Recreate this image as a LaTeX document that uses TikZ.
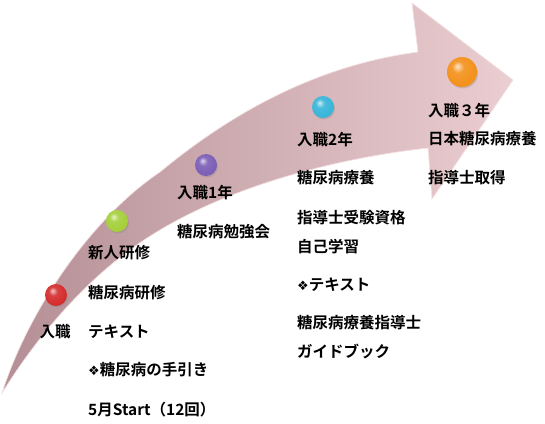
\documentclass[tikz,border=0pt]{standalone}
\usepackage{fontspec}
\newfontfamily\jpfont{Noto Sans CJK JP}[BoldFont={Noto Sans CJK JP Bold}]
\newfontfamily\symfont{DejaVu Sans}
\usetikzlibrary{positioning,calc,shadows}

\definecolor{arrowdark}{HTML}{B48F95}
\definecolor{arrowmid}{HTML}{D9B6BA}
\definecolor{arrowlight}{HTML}{EBCED1}
\definecolor{arrowedge}{HTML}{F3E1E3}
\definecolor{beadred}{HTML}{D42A2A}
\definecolor{beadgreen}{HTML}{A4CF38}
\definecolor{beadpurple}{HTML}{7A5CB5}
\definecolor{beadcyan}{HTML}{36B4D8}
\definecolor{beadorange}{HTML}{F39019}
\colorlet{beadtint}{beadred}

\pgfdeclareradialshading[beadtint]{beadball}{\pgfpoint{-8bp}{10bp}}{%
  color(0bp)=(beadtint!25!white); color(10bp)=(beadtint!90!white);
  color(30bp)=(beadtint); color(45bp)=(beadtint!80!black);
  color(60bp)=(beadtint!75!black)}

\tikzset{
  bead/.style={circle, inner sep=0pt, minimum size=22pt,
    /utils/exec={\colorlet{beadtint}{#1}}, shading=beadball,
    drop shadow={shadow xshift=1pt, shadow yshift=-1.5pt, opacity=0.3}},
  lbl/.style={anchor=west, inner sep=0pt, font=\jpfont\bfseries\fontsize{15.5}{18}\selectfont},
}
\newcommand{\dia}{{\symfont\fontsize{13}{14}\selectfont ❖}}

\begin{document}
\begin{tikzpicture}[x=1pt,y=-1pt]
\useasboundingbox (0,0) rectangle (545,423);
\shadedraw [left color=arrowdark, middle color=arrowmid, right color=arrowlight, draw=arrowedge, line width=0.7]
  (2,393) .. controls (29.6,307) and (93.6,216.4) .. (160,172)
  .. controls (235,110) and (320,65) .. (418,52)
  -- (412,3) -- (513,80) -- (432,199) -- (428,148)
  .. controls (339,158) and (237,184) .. (160,230)
  .. controls (95.5,268) and (42,329) .. (2,393) -- cycle;

\node[bead=beadred] (b0) at (56,295) {};
\node[bead=beadgreen] (b1) at (117,221) {};
\node[bead=beadpurple] (b2) at (206,165) {};
\node[bead=beadcyan] (b3) at (323,107) {};
\node[bead=beadorange, minimum size=30pt] (b4) at (462,72) {};

\node[lbl, anchor=center] (s0) at (55,332) {入職};
\node[lbl] (s0a) at (88,253) {新人研修};
\node[lbl] (s0b) at (88,293) {糖尿病研修};
\node[lbl] (s0c) at (88,332) {テキスト};
\node[lbl] (s0d) at (88,370) {\dia 糖尿病の手引き};
\node[lbl] (s0e) at (88,410) {5月Start（12回）};

\node[lbl] (s1) at (177,193) {入職1年};
\node[lbl] (s1a) at (177,232) {糖尿病勉強会};

\node[lbl] (s2) at (297,140) {入職2年};
\node[lbl] (s2a) at (297,178) {糖尿病療養};
\node[lbl] (s2b) at (297,218) {指導士受験資格};
\node[lbl] (s2c) at (297,247) {自己学習};
\node[lbl] (s2d) at (297,285) {\dia テキスト};
\node[lbl] (s2e) at (297,323) {糖尿病療養指導士};
\node[lbl] (s2f) at (297,351) {ガイドブック};

\node[lbl] (s3) at (428,111) {入職３年};
\node[lbl] (s3a) at (428,139) {日本糖尿病療養};
\node[lbl] (s3b) at (428,178) {指導士取得};
\end{tikzpicture}
\end{document}
